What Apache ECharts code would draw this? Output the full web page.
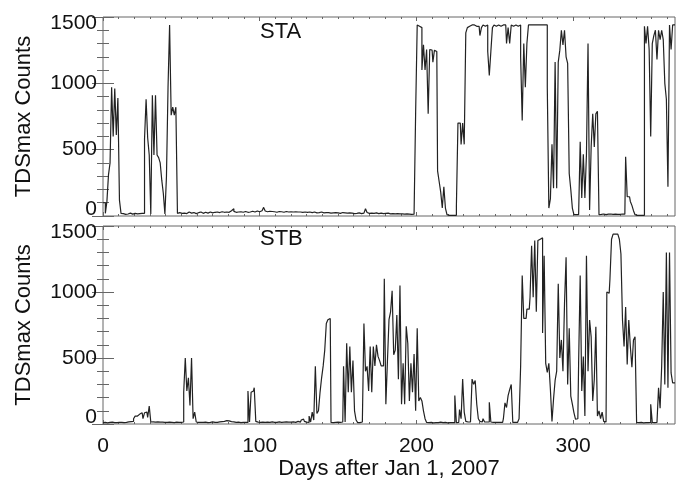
<!DOCTYPE html>
<html><head><meta charset="utf-8">
<script src="https://cdn.jsdelivr.net/npm/echarts@6/dist/echarts.min.js"></script>
<style>html,body{margin:0;padding:0;background:#fff}#c{width:682px;height:491px}</style>
</head><body><div id="c"></div>
<script>
// Daily TDSmax counts, index = day after Jan 1, 2007 (0..365)
const staCounts = [
  100,100,20,110,310,400,970,600,960,610,890,120,
  20,18,12,20,15,22,18,14,20,25,16,18,22,20,
  20,580,880,590,460,15,910,460,910,460,440,400,270,170,15,300,970,1440,760,820,760,820,20,
  25,
  20,28,22,18,25,30,22,20,26,18,
  22,25,30,24,20,28,25,22,30,26,
  24,28,22,30,26,25,32,28,24,30,
  28,32,40,55,35,28,30,26,32,28,
  30,34,28,32,30,36,32,30,38,34,
  32,40,45,65,38,32,36,30,34,32,
  30,28,34,30,32,28,30,34,30,38,
  32,30,28,32,30,26,30,28,32,30,
  28,32,30,26,28,30,24,28,26,30,
  28,24,26,30,26,22,28,24,26,22,
  24,20,22,26,24,20,22,24,20,22,
  18,22,20,24,20,18,22,30,55,26,
  20,22,18,20,24,20,18,22,20,18,
  20,18,22,16,20,18,16,20,18,16,
  18,16,14,18,16,14,16,12,14,12,
  780,1440,1430,1420,1100,1290,1100,1255,770,1255,1250,1160,1250,1240,340,260,180,60,220,60,10,
  5,5,5,5,5,
  70,700,700,540,700,540,1380,1420,1430,1440,1430,1440,1430,1440,1430,
  1360,1420,1440,1430,1440,1240,1060,1240,1420,1440,1430,1440,1440,1430,1440,1440,1440,1300,1420,1300,
  1440,1430,1440,1440,1430,1440,1200,720,1300,970,1300,1440,1440,1440,1430,1440,1440,1440,1440,1440,1440,1440,1440,
  975,60,130,540,210,1160,210,1160,1250,1400,1290,1400,1200,1150,320,200,60,10,10,10,10,560,135,465,135,465,1300,45,520,770,520,770,790,10,
  12,15,12,10,14,12,15,12,10,14,12,10,12,15,12,14,
  447,145,145,110,80,40,10,5,5,5,5,5,
  1430,1300,1430,1255,600,1300,1360,1400,1180,1400,1330,1400,1330,1000,880,220,1440,1255,1440,1440
];
const stbCounts = [
  10,12,10,8,12,10,14,10,12,10,12,14,12,10,14,12,16,14,18,20,
  40,60,60,75,75,85,40,85,90,50,135,15,
  16,14,12,16,14,12,14,12,10,12,14,10,12,10,12,14,12,10,12,
  15,240,500,250,350,140,500,40,90,15,12,
  12,10,12,14,12,10,12,14,16,12,14,12,16,14,18,20,22,25,24,20,18,16,14,12,14,12,10,12,14,12,12,
  250,15,240,250,275,20,
  14,12,16,14,12,16,14,12,14,16,12,14,12,16,14,12,14,12,16,14,12,14,16,14,12,20,18,14,30,37,20,14,12,
  60,15,90,30,437,80,100,240,350,440,560,762,790,800,12,
  10,12,10,14,12,10,
  15,437,15,612,240,587,240,480,100,30,10,10,15,20,
  762,400,437,250,587,240,587,440,600,512,480,440,440,1100,150,
  475,790,850,1010,525,560,825,340,1050,150,460,150,740,610,175,460,240,530,100,725,175,200,175,100,40,12,
  10,12,10,8,10,12,10,14,12,10,12,10,8,10,12,10,10,
  215,10,12,110,40,340,90,20,15,15,15,340,300,330,150,40,20,15,40,15,15,15,165,15,12,12,12,12,12,12,12,40,160,125,215,260,300,
  12,12,12,12,40,440,1125,800,800,870,870,960,1350,960,1390,850,1390,1400,1410,690,1275,460,390,460,260,20,190,
  330,400,1063,500,637,400,912,1263,300,725,212,150,87,37,40,462,1125,250,512,60,1275,400,787,660,175,337,737,60,100,40,90,20,15,
  1000,990,1100,1400,1438,1438,1438,1438,1400,1288,787,587,887,450,787,587,430,637,660,12,
  10,12,10,8,10,12,10,12,150,12,10,12,12,275,120,437,1000,300,1300,275,1300,387,312,312
];
const xMajorTicks = [0, 100, 200, 300];
const xMinorTicks = [10,20,30,40,50,60,70,80,90,110,120,130,140,150,160,170,180,190,210,220,230,240,250,260,270,280,290,310,320,330,340,350,360];
const yTickLabels = [0, 500, 1000, 1500];
const panelNames = ['STA', 'STB'];
const xTitle = 'Days after Jan 1, 2007';
const yTitle = 'TDSmax Counts';

const FONT = '"Liberation Sans", Arial, Helvetica, sans-serif';
const TXT = '#111';
const AX = '#666';
const grids = [
  { left: 103, top: 17, width: 572, height: 199 },
  { left: 103, top: 226, width: 572, height: 198 }
];

const xAxes = [], yAxes = [];
grids.forEach((g, gi) => {
  const base = { type: 'value', gridIndex: gi, min: 0, max: 365,
    axisLine: { show: false }, splitLine: { show: false } };
  xAxes.push(Object.assign({}, base, {
    position: 'bottom',
    axisTick: { show: true, inside: true, length: 4, customValues: xMajorTicks, lineStyle: { color: AX } },
    axisLabel: { show: gi === 1, customValues: xMajorTicks, margin: 12, fontSize: 21, color: TXT, fontFamily: FONT },
    name: gi === 1 ? xTitle : '', nameLocation: 'middle', nameGap: 34,
    nameTextStyle: { fontSize: 22, color: TXT, fontFamily: FONT }
  }));
  xAxes.push(Object.assign({}, base, {
    position: 'bottom',
    axisTick: { show: true, inside: true, length: 2, customValues: xMinorTicks, lineStyle: { color: AX } },
    axisLabel: { show: false }
  }));
  xAxes.push(Object.assign({}, base, {
    position: 'top',
    axisTick: { show: true, inside: true, length: 4, customValues: xMajorTicks, lineStyle: { color: AX } },
    axisLabel: { show: false }
  }));
  xAxes.push(Object.assign({}, base, {
    position: 'top',
    axisTick: { show: true, inside: true, length: 2, customValues: xMinorTicks, lineStyle: { color: AX } },
    axisLabel: { show: false }
  }));
  const ybase = { type: 'value', gridIndex: gi, min: yTickLabels[0], max: yTickLabels[yTickLabels.length - 1], interval: 500,
    axisLine: { show: false }, splitLine: { show: false },
    axisTick: { show: true, inside: true, length: 11, lineStyle: { color: AX } },
    minorTick: { show: true, splitNumber: 5, length: 6, lineStyle: { color: AX } } };
  yAxes.push(Object.assign({}, ybase, {
    position: 'left',
    axisLabel: {
      margin: 6, fontSize: 21, color: TXT, fontFamily: FONT,
      formatter: v => v === 0 ? '{lo|0}' : (v === 1500 ? '{hi|1500}' : String(v)),
      rich: {
        lo: { fontSize: 21, color: TXT, fontFamily: FONT, padding: [0, 0, 13, 0] },
        hi: { fontSize: 21, color: TXT, fontFamily: FONT, padding: [12, 0, 0, 0] }
      }
    },
    name: yTitle, nameLocation: 'middle', nameGap: 68,
    nameTextStyle: { fontSize: 22, color: TXT, fontFamily: FONT }
  }));
  yAxes.push(Object.assign({}, ybase, { position: 'right', axisLabel: { show: false } }));
});

const toPairs = arr => arr.map((v, i) => [i, v]);

const option = {
  animation: false,
  backgroundColor: '#fff',
  title: [
    { text: panelNames[0], left: 260, top: 21, padding: 0, textStyle: { fontSize: 22, fontWeight: 'normal', color: TXT, fontFamily: FONT } },
    { text: panelNames[1], left: 260, top: 228, padding: 0, textStyle: { fontSize: 22, fontWeight: 'normal', color: TXT, fontFamily: FONT } }
  ],
  grid: grids.map(g => Object.assign({ show: true, borderColor: AX, borderWidth: 1, backgroundColor: 'transparent' }, g)),
  xAxis: xAxes,
  yAxis: yAxes,
  series: [
    { type: 'line', xAxisIndex: 0, yAxisIndex: 0, step: 'middle', symbol: 'none', silent: true,
      lineStyle: { color: '#222', width: 1.2 }, data: toPairs(staCounts) },
    { type: 'line', xAxisIndex: 4, yAxisIndex: 2, step: 'middle', symbol: 'none', silent: true,
      lineStyle: { color: '#222', width: 1.2 }, data: toPairs(stbCounts) }
  ]
};
echarts.init(document.getElementById('c'), null, { renderer: 'canvas' }).setOption(option);
</script>
</body></html>
